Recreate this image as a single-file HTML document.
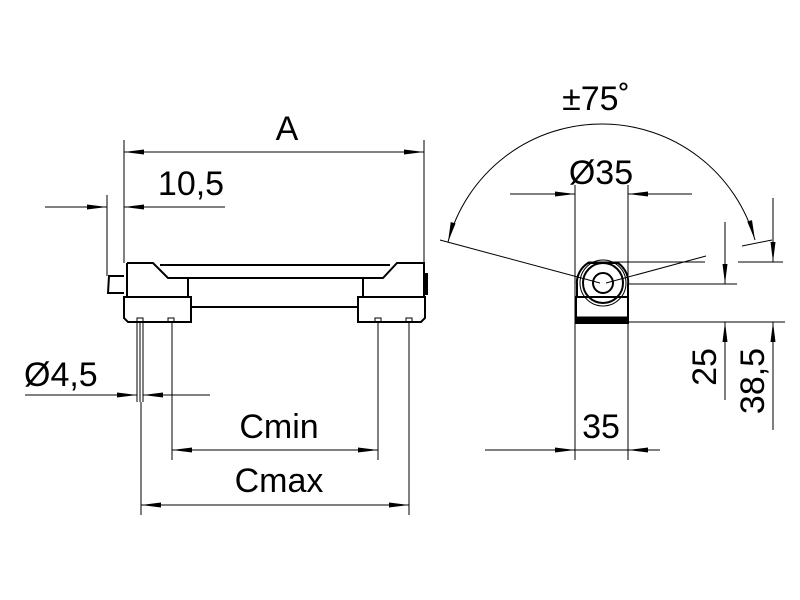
<!DOCTYPE html>
<html><head><style>html,body{margin:0;background:#fff}svg{display:block}text{font-family:"Liberation Sans",sans-serif;font-size:34px;fill:#000}</style></head><body>
<svg width="800" height="600" viewBox="0 0 800 600" xmlns="http://www.w3.org/2000/svg">
<defs>
<marker id="a" viewBox="0 0 20 6" refX="20" refY="3" markerWidth="20" markerHeight="6" markerUnits="userSpaceOnUse" orient="auto"><path d="M0,0.5 L20,3 L0,5.5z" fill="#000"/></marker>
</defs>
<g stroke="#000" stroke-width="1" fill="none">
<line x1="124" y1="140" x2="124" y2="263"/><line x1="424" y1="140" x2="424" y2="263"/>
<line x1="124" y1="152" x2="424" y2="152" marker-end="url(#a)"/><line x1="424" y1="152" x2="124" y2="152" marker-end="url(#a)"/>
<line x1="107" y1="195" x2="107" y2="276"/>
<line x1="45" y1="207" x2="107" y2="207" marker-end="url(#a)"/><line x1="225" y1="207" x2="124" y2="207" marker-end="url(#a)"/>
<g stroke-width="2">
<path d="M127,263 L153,263 L168,278 L383,278 L397,263 L424,263 L424,296"/>
<line x1="160" y1="265" x2="390" y2="265"/>
<line x1="188" y1="278" x2="188" y2="297"/><line x1="363" y1="278" x2="363" y2="297"/>
<line x1="127" y1="263" x2="127" y2="297"/>
<path d="M124,297 L191,297 L191,322 L128,322 L124,318 Z"/>
<path d="M358,297 L425,297 L425,318 L421,322 L358,322 Z"/>
<line x1="191" y1="307" x2="358" y2="307"/>
<path d="M124,276 L109,276 L108,293 L124,293"/>
</g>
<rect x="424" y="273" width="4" height="22" fill="#000" stroke="none"/>
<g stroke-width="1"><rect x="137" y="318" width="6" height="4"/><rect x="168" y="318" width="6" height="4"/><rect x="375" y="318" width="6" height="4"/><rect x="406" y="318" width="6" height="4"/></g>
<line x1="137" y1="322" x2="137" y2="402"/><line x1="140" y1="322" x2="140" y2="402"/><line x1="143" y1="322" x2="143" y2="402"/>
<line x1="141" y1="402" x2="141" y2="515"/>
<line x1="172" y1="322" x2="172" y2="460"/><line x1="378" y1="322" x2="378" y2="460"/><line x1="409" y1="322" x2="409" y2="515"/>
<line x1="25" y1="395" x2="137" y2="395" marker-end="url(#a)"/><line x1="210" y1="395" x2="143" y2="395" marker-end="url(#a)"/>
<line x1="172" y1="450" x2="378" y2="450" marker-end="url(#a)"/><line x1="378" y1="450" x2="172" y2="450" marker-end="url(#a)"/>
<line x1="141" y1="505" x2="409" y2="505" marker-end="url(#a)"/><line x1="409" y1="505" x2="141" y2="505" marker-end="url(#a)"/>
<path d="M603,124 A159,159 0 0 0 448,242" marker-end="url(#a)"/>
<path d="M603,124 A159,159 0 0 1 755,240" marker-end="url(#a)"/>
<line x1="440" y1="240" x2="600" y2="283"/><line x1="606" y1="283" x2="706" y2="256"/>
<line x1="742" y1="246" x2="772" y2="240"/>
<line x1="575" y1="185" x2="575" y2="460"/><line x1="628" y1="185" x2="628" y2="460"/>
<line x1="510" y1="194" x2="575" y2="194" marker-end="url(#a)"/><line x1="692" y1="194" x2="628" y2="194" marker-end="url(#a)"/>
<g stroke-width="2">
<path d="M577,297 L577,285 A26,24 0 0 1 588,263 L618,263 A26,24 0 0 1 628,285 L628,297"/>
<circle cx="603" cy="283" r="20"/>
<circle cx="603" cy="283" r="10"/>
<rect x="576" y="297" width="52" height="26"/>
</g>
<circle cx="603" cy="283" r="23"/>
<rect x="576" y="317" width="52" height="6" fill="#000"/>
<line x1="588" y1="262" x2="705" y2="262"/>
<line x1="628" y1="284" x2="737" y2="284"/>
<line x1="738" y1="262" x2="783" y2="262"/>
<line x1="628" y1="322" x2="785" y2="322"/>
<line x1="725" y1="222" x2="725" y2="284" marker-end="url(#a)"/><line x1="725" y1="400" x2="725" y2="322" marker-end="url(#a)"/>
<line x1="773" y1="198" x2="773" y2="262" marker-end="url(#a)"/><line x1="773" y1="430" x2="773" y2="322" marker-end="url(#a)"/>
<line x1="485" y1="450" x2="575" y2="450" marker-end="url(#a)"/>
<line x1="575" y1="450" x2="628" y2="450"/>
<line x1="660" y1="450" x2="628" y2="450" marker-end="url(#a)"/>
</g>
<text x="287" y="140" text-anchor="middle">A</text>
<text x="191" y="195" text-anchor="middle">10,5</text>
<text x="24" y="386">Ø4,5</text>
<text x="279" y="438" text-anchor="middle">Cmin</text>
<text x="279" y="492" text-anchor="middle">Cmax</text>
<text x="596" y="110" text-anchor="middle">±75˚</text>
<text x="601" y="184" text-anchor="middle">Ø35</text>
<text x="601" y="438" text-anchor="middle">35</text>
<text transform="translate(716,367) rotate(-90)" text-anchor="middle">25</text>
<text transform="translate(764,381) rotate(-90)" text-anchor="middle">38,5</text>
</svg>
</body></html>
